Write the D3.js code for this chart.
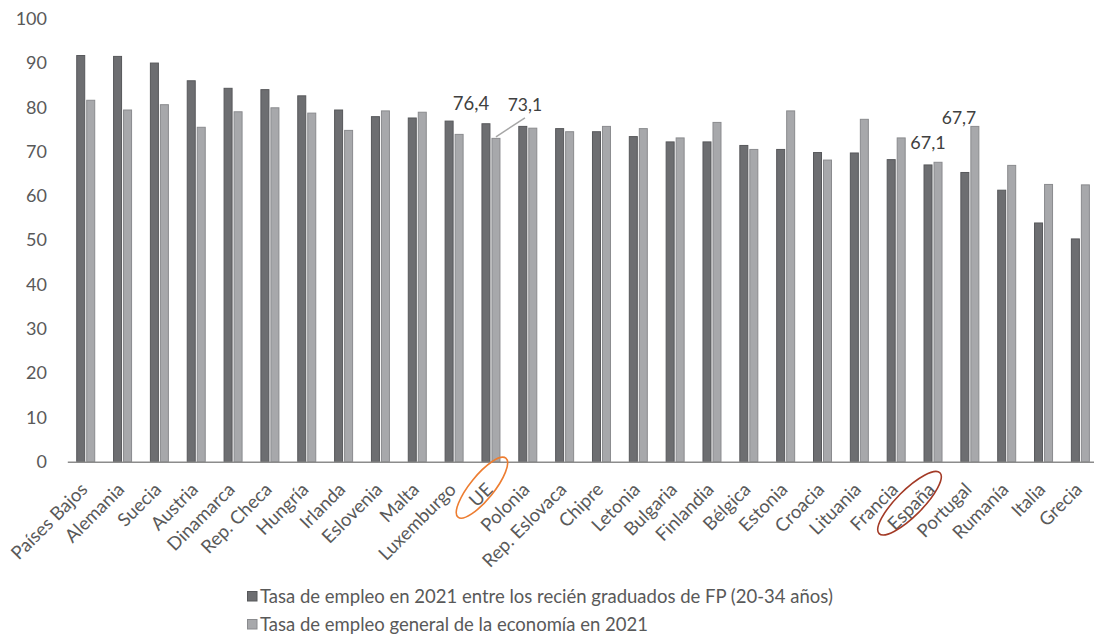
<!DOCTYPE html>
<html>
<head>
<meta charset="utf-8">
<script src="https://cdnjs.cloudflare.com/ajax/libs/d3/7.8.5/d3.min.js"></script>
<style>
  body { margin: 0; background: #fff; }
  svg text { font-family: Lato, "Open Sans", sans-serif; }
</style>
</head>
<body>
<div id="chart"></div>
<script>
// categories and values
var categories = ["Países Bajos", "Alemania", "Suecia", "Austria", "Dinamarca", "Rep. Checa", "Hungría",
    "Irlanda", "Eslovenia", "Malta", "Luxemburgo", "UE", "Polonia", "Rep. Eslovaca", "Chipre", "Letonia",
    "Bulgaria", "Finlandia", "Bélgica", "Estonia", "Croacia", "Lituania", "Francia", "España", "Portugal",
    "Rumanía", "Italia", "Grecia"];

var fpRate = [91.8, 91.6, 90.1, 86.1, 84.4, 84.1, 82.7, 79.5, 78.0, 77.7, 77.0, 76.4, 75.8, 75.3,
    74.6, 73.5, 72.3, 72.3, 71.5, 70.6, 69.9, 69.8, 68.3, 67.1, 65.4, 61.4, 54.0, 50.4];

var totalRate = [81.7, 79.5, 80.7, 75.6, 79.1, 80.0, 78.8, 74.9, 79.3, 79.0, 74.0, 73.1, 75.4, 74.6,
    75.8, 75.3, 73.2, 76.7, 70.6, 79.3, 68.2, 77.4, 73.2, 67.7, 75.8, 67.0, 62.7, 62.6];

var yTicks = [0, 10, 20, 30, 40, 50, 60, 70, 80, 90, 100];

var seriesKeys = ["fp", "total"];
var seriesNames = ["Tasa de empleo en 2021 entre los recién graduados de FP (20-34 años)",
    "Tasa de empleo general de la economía en 2021"];

// highlighted labels
var valueLabels = [
    { cat: "UE", key: "fp", text: "76,4", dx: -15, dy: -13, size: 18.5 },
    { cat: "UE", key: "total", text: "73,1", dx: 29, dy: -27, size: 17.5, leader: true },
    { cat: "España", key: "fp", text: "67,1", dx: 0, dy: -15, size: 18 },
    { cat: "España", key: "total", text: "67,7", dx: 21, dy: -38, size: 17.5 }
];
var circled = [
    { cat: "UE", color: "#ed7d31", dx: -9, dy: 26, rx: 38, ry: 12, angle: -51 },
    { cat: "España", color: "#a33a26", dx: -23.5, dy: 41.5, rx: 43, ry: 13, angle: -45 }
];

var width = 1094, height = 640;
var baseY = 461.7;

var svg = d3.select("#chart")
    .append("svg")
    .attr("width", width)
    .attr("height", height);

var rows = categories.map(function (c, i) {
    return { cat: c, fp: fpRate[i], total: totalRate[i] };
});

// scales
var x = d3.scaleBand()
    .domain(categories)
    .range([67.3, 1098.8]);

var x1 = d3.scaleBand()
    .domain(seriesKeys)
    .range([-9.5, 9.5])
    .paddingInner(0.1);

var y = d3.scaleLinear()
    .domain([0, 100])
    .range([baseY, 18.7]);

var fills = { fp: "#6d6e71", total: "#a7a8ab" };
var strokes = { fp: "#57585b", total: "#8a8b8e" };

// y axis labels (no line)
var yAxis = svg.append("g")
    .attr("transform", "translate(47,0)")
    .call(d3.axisLeft(y).tickValues(yTicks).tickSize(0).tickPadding(0).tickFormat(d3.format("d")));
yAxis.select(".domain").remove();
yAxis.selectAll("text")
    .attr("font-size", 18)
    .attr("fill", "#595959");

// bars
var groups = svg.append("g")
    .selectAll("g")
    .data(rows)
    .enter()
    .append("g")
    .attr("transform", function (d) { return "translate(" + (x(d.cat) + x.bandwidth() / 2) + ",0)"; });

groups.selectAll("rect")
    .data(function (d) { return seriesKeys.map(function (k) { return { key: k, value: d[k] }; }); })
    .enter()
    .append("rect")
    .attr("x", function (d) { return x1(d.key) + 0.5; })
    .attr("width", x1.bandwidth() - 1)
    .attr("y", function (d) { return y(d.value) + 0.5; })
    .attr("height", function (d) { return y(0) - y(d.value) - 0.5; })
    .attr("fill", function (d) { return fills[d.key]; })
    .attr("stroke", function (d) { return strokes[d.key]; })
    .attr("stroke-width", 1);

// x axis
var xAxis = svg.append("g")
    .attr("transform", "translate(0," + baseY + ")")
    .call(d3.axisBottom(x).tickSize(0).tickFormat(""));
xAxis.select(".domain")
    .attr("stroke", "#8c8c8c")
    .attr("stroke-width", 1.5);

// rotated category labels
svg.append("g")
    .selectAll("text")
    .data(categories)
    .enter()
    .append("text")
    .attr("transform", function (d) {
        return "translate(" + (x(d) + x.bandwidth() / 2 + 3) + "," + (baseY + 29) + ") rotate(-45)";
    })
    .attr("text-anchor", "end")
    .attr("font-size", 18.5)
    .attr("fill", "#595959")
    .text(function (d) { return d; });

// circles round UE and España
svg.append("g")
    .selectAll("ellipse")
    .data(circled)
    .enter()
    .append("ellipse")
    .attr("transform", function (d) {
        return "translate(" + (x(d.cat) + x.bandwidth() / 2 + d.dx) + "," + (baseY + d.dy) + ") rotate(" + d.angle + ")";
    })
    .attr("rx", function (d) { return d.rx; })
    .attr("ry", function (d) { return d.ry; })
    .attr("fill", "none")
    .attr("stroke", function (d) { return d.color; })
    .attr("stroke-width", 1.6);

// value labels
function barTop(d) {
    var i = categories.indexOf(d.cat);
    var v = d.key === "fp" ? fpRate[i] : totalRate[i];
    return {
        cx: x(d.cat) + x.bandwidth() / 2 + x1(d.key) + x1.bandwidth() / 2,
        cy: y(v)
    };
}

svg.append("g")
    .selectAll("line")
    .data(valueLabels.filter(function (d) { return d.leader; }))
    .enter()
    .append("line")
    .attr("x1", function (d) { return barTop(d).cx; })
    .attr("y1", function (d) { return barTop(d).cy - 1; })
    .attr("x2", function (d) { return barTop(d).cx + d.dx; })
    .attr("y2", function (d) { return barTop(d).cy + d.dy + 7; })
    .attr("stroke", "#a6a6a6")
    .attr("stroke-width", 1.5);

svg.append("g")
    .selectAll("text")
    .data(valueLabels)
    .enter()
    .append("text")
    .attr("x", function (d) { return barTop(d).cx + d.dx; })
    .attr("y", function (d) { return barTop(d).cy + d.dy; })
    .attr("text-anchor", "middle")
    .attr("font-size", function (d) { return d.size; })
    .attr("fill", "#404040")
    .text(function (d) { return d.text; });

// legend
var legend = svg.append("g")
    .selectAll("g")
    .data(seriesKeys)
    .enter()
    .append("g")
    .attr("transform", function (d, i) { return "translate(247," + (596 + i * 28) + ")"; });

legend.append("rect")
    .attr("x", 0.5)
    .attr("y", -4.5)
    .attr("width", 9.5)
    .attr("height", 9.5)
    .attr("fill", function (d) { return fills[d]; })
    .attr("stroke", function (d) { return strokes[d]; });

legend.append("text")
    .attr("x", 13)
    .attr("y", 6.5)
    .attr("font-size", 18.5)
    .attr("fill", "#595959")
    .text(function (d, i) { return seriesNames[i]; });
</script>
</body>
</html>
